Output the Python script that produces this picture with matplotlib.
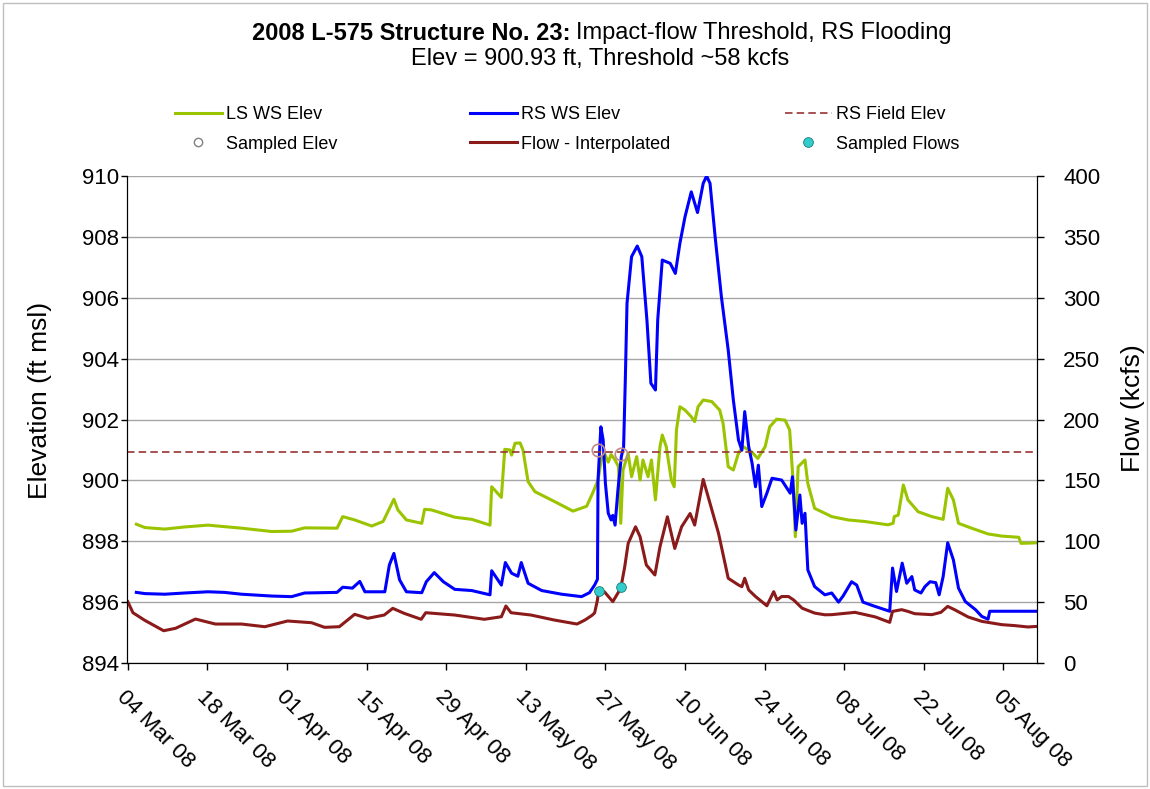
import matplotlib
matplotlib.use("Agg")
import matplotlib.pyplot as plt
import matplotlib.dates as mdates
from matplotlib.lines import Line2D
from matplotlib.patches import Rectangle
import numpy as np
from datetime import datetime

plt.rcParams['font.family'] = ['Liberation Sans', 'DejaVu Sans']

# days since 04 Mar 2008
ls_days = [1.5, 3, 6.5, 10, 14.1, 17, 20, 25.3, 28.8, 31.1, 36.8, 37.8, 39.9, 42.9, 44.9,
           46.8, 47.5, 49.0, 51.7, 52.2, 53.4, 57.5, 60.5, 63.7, 64.0, 65.7, 66.3, 67.2,
           67.5, 68.1, 69.0, 69.5, 70.4, 71.6, 75.1, 78.3, 80.7, 81.8, 82.7, 83.3, 83.8,
           84.5, 85.0, 85.7, 86.3, 86.7, 87.1, 88.0, 88.6, 89.5, 90.1, 90.6, 91.5, 92.1,
           92.8, 93.6, 94.0, 94.7, 95.6, 96.1, 96.5, 97.1, 98.0, 99.1, 99.7, 100.3, 101.2,
           102.7, 104.1, 104.7, 105.6, 106.5, 107.4, 108.2, 109.7, 110.8, 112.1, 112.9,
           114.1, 115.6, 116.4, 117.0, 117.4, 117.9, 119.1, 119.6, 120.8, 122.6, 123.8,
           126.7, 129.6, 133.7, 134.6, 134.8, 135.5, 136.4, 137.2, 139.0, 141.4, 143.4,
           144.2, 145.2, 146.1, 148.4, 151.3, 153.7, 156.7, 157.1, 160.1]
ls_elev = [898.56, 898.45, 898.40, 898.47, 898.53, 898.48, 898.43, 898.32, 898.33, 898.44,
           898.43, 898.81, 898.70, 898.50, 898.65, 899.38, 899.03, 898.70, 898.59, 899.05,
           899.03, 898.79, 898.72, 898.53, 899.79, 899.44, 901.02, 901.00, 900.83, 901.22,
           901.23, 901.00, 899.96, 899.63, 899.30, 898.99, 899.15, 899.60, 900.01, 900.70,
           900.90, 900.60, 900.85, 900.67, 900.45, 898.59, 900.34, 900.89, 900.12, 900.78,
           900.01, 900.67, 900.12, 900.67, 899.36, 901.11, 901.49, 901.11, 900.01, 899.79,
           901.66, 902.42, 902.31, 902.09, 901.93, 902.42, 902.64, 902.59, 902.31, 901.87,
           900.45, 900.34, 900.89, 901.11, 900.94, 900.72, 901.11, 901.76, 902.01, 901.98,
           901.66, 900.01, 898.15, 900.45, 900.67, 899.90, 899.08, 898.92, 898.81, 898.70,
           898.65, 898.54, 898.59, 898.81, 898.86, 899.85, 899.36, 898.97, 898.81, 898.72,
           899.74, 899.36, 898.59, 898.43, 898.24, 898.17, 898.13, 897.93, 897.95]

rs_days = [1.5, 3, 6.5, 10, 14.1, 17, 20, 25.3, 28.8, 31.1, 36.8, 37.8, 39.5, 40.8, 41.7,
           45.2, 46.0, 46.8, 47.8, 49.0, 51.7, 52.5, 53.9, 55.5, 57.5, 60.5, 63.7, 64.0,
           65.7, 66.4, 67.5, 68.6, 69.2, 70.4, 72.8, 76.3, 79.8, 81.2, 82.1, 82.6, 82.7,
           83.2, 83.6, 84.0, 84.5, 85.0, 85.3, 85.7, 86.2, 86.8, 87.2, 87.5, 87.8, 88.6,
           89.6, 90.4, 91.3, 92.0, 92.8, 93.2, 94.0, 95.4, 96.3, 97.1, 98.0, 99.1, 100.2,
           101.2, 101.8, 102.4, 103.3, 104.4, 105.6, 106.5, 107.4, 108.0, 108.5, 109.2,
           109.8, 110.4, 110.9, 111.5, 112.4, 113.3, 115.0, 116.5, 116.9, 117.5, 118.2,
           118.6, 119.1, 119.6, 120.8, 122.6, 123.8, 125.0, 125.8, 127.3, 128.2, 129.3,
           131.1, 134.0, 134.5, 135.2, 136.2, 137.0, 137.9, 138.4, 139.5, 140.2, 141.1,
           142.1, 142.7, 143.4, 144.2, 145.2, 146.1, 147.3, 149.1, 150.2, 151.3, 151.6, 160.1]
rs_elev = [896.32, 896.28, 896.26, 896.30, 896.34, 896.32, 896.26, 896.20, 896.18, 896.30,
           896.32, 896.49, 896.46, 896.68, 896.34, 896.34, 897.22, 897.60, 896.73, 896.34,
           896.31, 896.67, 896.97, 896.67, 896.42, 896.38, 896.24, 897.03, 896.56, 897.30,
           896.95, 896.85, 897.30, 896.62, 896.38, 896.26, 896.18, 896.31, 896.56, 896.75,
           900.00, 901.76, 901.33, 899.90, 898.92, 898.70, 898.85, 898.53, 899.68, 900.78,
           901.10, 903.30, 905.82, 907.35, 907.70, 907.35, 905.27, 903.19, 902.97, 905.27,
           907.24, 907.13, 906.80, 907.79, 908.66, 909.48, 908.80, 909.76, 910.00, 909.76,
           908.00, 906.03, 904.28, 902.64, 901.33, 900.99, 902.26, 901.11, 900.56, 899.79,
           900.50, 899.14, 899.58, 900.07, 900.01, 899.58, 900.12, 898.37, 899.52, 898.59,
           898.92, 897.06, 896.51, 896.24, 896.30, 896.00, 896.20, 896.67, 896.56, 896.00,
           895.88, 895.70, 897.12, 896.35, 897.28, 896.62, 896.84, 896.40, 896.30, 896.51,
           896.67, 896.64, 896.24, 896.84, 897.95, 897.39, 896.46, 896.02, 895.75, 895.53,
           895.44, 895.70, 895.70]

flow_days = [0, 0.9, 3, 6.3, 8.4, 11.9, 15.4, 20, 24.1, 28.1, 32.3, 34.6, 37.2, 39.9, 42.2,
             45.1, 46.6, 48.6, 51.6, 52.4, 57.5, 62.7, 65.7, 66.5, 67.4, 70.9, 75.0, 79.0,
             80.4, 81.6, 82.1, 82.6, 82.8, 83.8, 85.3, 86.7, 87.4, 88.0, 89.3, 90.1, 91.2,
             92.7, 93.6, 94.9, 96.2, 97.4, 98.9, 99.7, 101.2, 102.4, 103.9, 105.6, 107.4,
             108.0, 108.5, 109.2, 110.4, 112.4, 113.6, 114.2, 115.0, 116.2, 117.1, 118.6,
             120.8, 122.6, 123.8, 127.9, 131.5, 134.0, 134.5, 136.1, 137.2, 138.4, 141.4,
             143.0, 144.2, 145.4, 147.8, 150.2, 153.7, 156.0, 158.3, 160.1]
flow_kcfs = [50.3, 41.3, 35.0, 26.5, 28.5, 36.1, 32.0, 32.0, 29.8, 34.5, 33.1, 29.3, 29.8,
             40.0, 36.7, 39.4, 44.9, 40.8, 35.9, 41.3, 39.4, 35.9, 38.0, 46.8, 41.3, 39.4,
             35.3, 32.0, 35.3, 39.0, 41.1, 51.7, 60.0, 58.6, 50.4, 61.4, 79.1, 98.2, 111.9,
             103.7, 80.5, 72.3, 95.5, 120.1, 94.1, 111.9, 122.8, 113.3, 150.8, 131.1, 106.4,
             69.6, 64.1, 62.7, 69.6, 60.0, 54.6, 47.0, 58.6, 51.8, 54.6, 54.6, 51.8, 45.0,
             41.0, 39.6, 39.7, 41.6, 37.8, 33.4, 42.4, 43.8, 42.4, 40.5, 39.7, 41.6, 46.5,
             43.8, 37.8, 34.2, 31.5, 30.7, 29.6, 30.1]

field_elev = 900.93
samp_elev_days = [82.7, 86.7]
samp_elev = [900.99, 900.88]
samp_flow_days = [82.9, 86.7]
samp_flow = [59.4, 62.2]

tick_days = list(range(0, 155, 14))

base = mdates.date2num(datetime(2008, 3, 4))
to_x = lambda d: base + np.asarray(d, dtype=float)

fig = plt.figure(figsize=(11.5, 7.89), dpi=100)
ax = fig.add_axes([0.1104, 0.1597, 0.7913, 0.6172])
ax2 = ax.twinx()

c_ls = '#9bc400'
c_rs = '#0000ff'
c_fl = '#8b1a1a'
c_fd = '#993333'

ln_ls, = ax.plot(to_x(ls_days), ls_elev, color=c_ls, lw=2.2, label='LS WS Elev')
ln_rs, = ax.plot(to_x(rs_days), rs_elev, color=c_rs, lw=2.2, label='RS WS Elev')
ln_fd = ax.axhline(field_elev, color=c_fd, lw=1.2, dashes=(4.5, 2.5), label='RS Field Elev')
ax.plot(to_x(samp_elev_days), samp_elev, 'o', ms=9, mfc='none', mec='#c08a8a', mew=1.2)
ln_fl, = ax2.plot(to_x(flow_days), flow_kcfs, color=c_fl, lw=2.2, label='Flow - Interpolated')
ln_sf, = ax2.plot(to_x(samp_flow_days), samp_flow, 'o', ms=7, mfc='#33cccc', mec='#1a7a7a',
                  mew=0.6, label='Sampled Flows')
# legend proxy for the sampled elevations (grey, small in the reference legend)
ln_se = Line2D([], [], ls='none', marker='o', ms=6, mfc='none', mec='#808080', mew=1,
               label='Sampled Elev')

ax.set_xlim(base - 0.15, base + 159.9)
ax.set_ylim(894, 910)
ax2.set_ylim(0, 400)
ax.set_yticks(np.arange(894, 911, 2))
ax2.set_yticks(np.arange(0, 401, 50))
ax.set_xticks(to_x(tick_days))
ax.xaxis.set_major_formatter(mdates.DateFormatter('%d %b %y'))
for lab in ax.get_xticklabels():
    lab.set_rotation(-45)
    lab.set_ha('left')
    lab.set_va('top')
    lab.set_rotation_mode('anchor')
    lab.set_fontsize(16.5)

ax.yaxis.grid(True, color='#a6a6a6', lw=1)
ax.set_axisbelow(True)
for a in (ax, ax2):
    a.spines['top'].set_visible(False)
    a.tick_params(labelsize=16, length=5, width=1)
ax.tick_params(axis='x', pad=12)
ax.tick_params(axis='y', length=4, pad=2)
ax2.tick_params(axis='y', pad=14)

ax.set_ylabel('Elevation (ft msl)', fontsize=19)
ax.yaxis.set_label_coords(-0.082, 0.54)
ax2.set_ylabel('Flow (kcfs)', fontsize=19)
ax2.yaxis.set_label_coords(1.092, 0.524)

# title: bold part + normal part
fig.text(0.4957, 0.958, '2008 L-575 Structure No. 23:', ha='right', va='center',
         fontsize=17, weight='bold')
fig.text(0.5009, 0.958, 'Impact-flow Threshold, RS Flooding', ha='left', va='center',
         fontsize=17)
fig.text(0.5217, 0.925, 'Elev = 900.93 ft, Threshold ~58 kcfs', ha='center', va='center',
         fontsize=17)

cols = [([ln_ls, ln_se], 175), ([ln_rs, ln_fl], 470), ([ln_fd, ln_sf], 785)]
for hs, xpx in cols:
    fig.legend(handles=hs, loc='upper left', bbox_to_anchor=(xpx / 1150, 1 - 106 / 789),
               frameon=False, fontsize=13, handlelength=2.6, handletextpad=0.2,
               borderpad=0, borderaxespad=0, labelspacing=0.7)

fig.patches.append(Rectangle((0.003, 0.004), 0.994, 0.992, transform=fig.transFigure,
                             fill=False, ec='#bfbfbf', lw=1))

fig.savefig('out.png', dpi=100)
